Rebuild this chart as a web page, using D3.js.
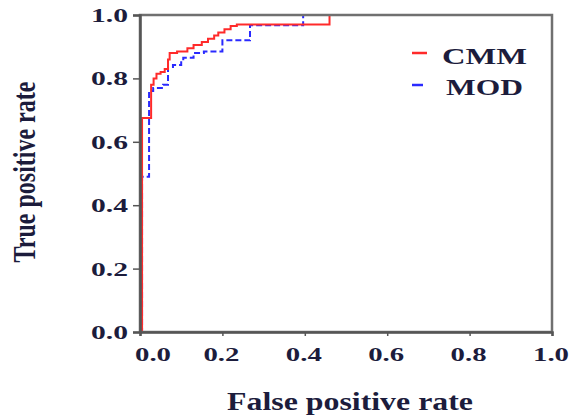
<!DOCTYPE html>
<html><head><meta charset="utf-8">
<script src="https://cdn.jsdelivr.net/npm/d3@7"></script>
<style>html,body{margin:0;padding:0;background:#fff;}svg{display:block;}</style>
</head><body>
<script>
const tickValues = [0, 0.2, 0.4, 0.6, 0.8, 1.0];
const tickLabels = ["0.0", "0.2", "0.4", "0.6", "0.8", "1.0"];
const seriesNames = ["CMM", "MOD"];
const seriesColors = ["#ff2a2a", "#2a2aff"];
const cmmFpr = [0,0.005,0.005,0.027,0.027,0.033,0.033,0.04,0.04,0.05,0.05,0.06,0.06,0.068,0.068,0.072,0.072,0.09,0.09,0.115,0.115,0.13,0.13,0.15,0.15,0.165,0.165,0.18,0.18,0.19,0.19,0.205,0.205,0.22,0.22,0.235,0.235,0.46,0.46,1.0];
const cmmTpr = [0,0,0.675,0.675,0.78,0.78,0.80,0.80,0.815,0.815,0.82,0.82,0.83,0.83,0.86,0.86,0.88,0.88,0.885,0.885,0.895,0.895,0.905,0.905,0.915,0.915,0.925,0.925,0.935,0.935,0.945,0.945,0.955,0.955,0.965,0.965,0.97,0.97,1.0,1.0];
const modFpr = [0,0.005,0.005,0.022,0.022,0.032,0.032,0.056,0.056,0.068,0.068,0.08,0.08,0.1,0.1,0.105,0.105,0.13,0.13,0.155,0.155,0.2,0.2,0.267,0.267,0.396,0.396,1.0];
const modTpr = [0,0,0.49,0.49,0.76,0.76,0.77,0.77,0.78,0.78,0.836,0.836,0.842,0.842,0.855,0.855,0.865,0.865,0.88,0.88,0.885,0.885,0.92,0.92,0.968,0.968,1.0,1.0];

const W = 574, H = 419;
const svg = d3.select("body").append("svg").attr("width", W).attr("height", H);
const x = d3.scaleLinear().domain([0, 1]).range([140, 552]);
const y = d3.scaleLinear().domain([0, 1]).range([332, 15]);
const font = "'Liberation Serif', 'Times New Roman', serif";
const textCol = "#1c1c3c";

// curves
const line = d3.line().x(d => x(d[0])).y(d => y(d[1]));
const cmm = cmmFpr.map((v, i) => [v, cmmTpr[i]]);
const mod = modFpr.map((v, i) => [v, modTpr[i]]);
svg.append("path").datum(mod).attr("d", line).attr("fill", "none")
  .attr("stroke", seriesColors[1]).attr("stroke-width", 2).attr("stroke-dasharray", "6,3");
svg.append("path").datum(cmm).attr("d", line).attr("fill", "none")
  .attr("stroke", seriesColors[0]).attr("stroke-width", 2);

// frame (drawn over curves)
svg.append("rect").attr("x", x(0)).attr("y", y(1)).attr("width", x(1) - x(0)).attr("height", y(0) - y(1))
  .attr("fill", "none").attr("stroke", "#707070").attr("stroke-width", 2.5);

// axes
const xAxis = d3.axisBottom(x).tickValues(tickValues).tickSize(4).tickFormat("");
const yAxis = d3.axisLeft(y).tickValues(tickValues).tickSize(7).tickFormat("");
const gx = svg.append("g").attr("transform", `translate(0,${y(0)})`).call(xAxis);
const gy = svg.append("g").attr("transform", `translate(${x(0)},0)`).call(yAxis);
[gx, gy].forEach(g => {
  g.select(".domain").attr("stroke", "#555").attr("stroke-width", 2.5);
  g.selectAll(".tick line").attr("stroke", "#555").attr("stroke-width", 1.5);
});

// x tick labels
svg.append("g").selectAll("text").data(tickValues).join("text")
  .attr("x", (d, i) => i === 0 ? x(d) + 13 : x(d) - 1)
  .attr("y", 361)
  .attr("text-anchor", "middle")
  .attr("font-family", font).attr("font-weight", "bold").attr("font-size", 19)
  .attr("fill", textCol)
  .attr("textLength", 36).attr("lengthAdjust", "spacingAndGlyphs")
  .text((d, i) => tickLabels[i]);

// y tick labels
svg.append("g").selectAll("text").data(tickValues).join("text")
  .attr("x", 128)
  .attr("y", d => y(d) + 7)
  .attr("text-anchor", "end")
  .attr("font-family", font).attr("font-weight", "bold").attr("font-size", 19)
  .attr("fill", textCol)
  .attr("textLength", 37).attr("lengthAdjust", "spacingAndGlyphs")
  .text((d, i) => tickLabels[i]);

// axis titles
svg.append("text").attr("x", 350).attr("y", 410).attr("text-anchor", "middle")
  .attr("font-family", font).attr("font-weight", "bold").attr("font-size", 25)
  .attr("fill", textCol).attr("textLength", 246).attr("lengthAdjust", "spacingAndGlyphs")
  .text("False positive rate");
svg.append("text").attr("transform", "translate(35,172) rotate(-90) scale(1,1.3)")
  .attr("text-anchor", "middle")
  .attr("font-family", font).attr("font-weight", "bold").attr("font-size", 24)
  .attr("fill", textCol)
  .text("True positive rate");

// legend
const leg = [{ lx1: 412, lx2: 427, ly: 53, tx: 442, ty: 64, tl: 85 }, { lx1: 412, lx2: 423, ly: 85, tx: 446, ty: 95, tl: 77 }];
seriesNames.forEach((n, i) => {
  const L = leg[i];
  svg.append("line").attr("x1", L.lx1).attr("x2", L.lx2).attr("y1", L.ly).attr("y2", L.ly)
    .attr("stroke", seriesColors[i]).attr("stroke-width", 2.5);
  svg.append("text").attr("x", L.tx).attr("y", L.ty)
    .attr("font-family", font).attr("font-weight", "bold").attr("font-size", 23)
    .attr("fill", textCol).attr("textLength", L.tl).attr("lengthAdjust", "spacingAndGlyphs")
    .text(n);
});
</script>
</body></html>
